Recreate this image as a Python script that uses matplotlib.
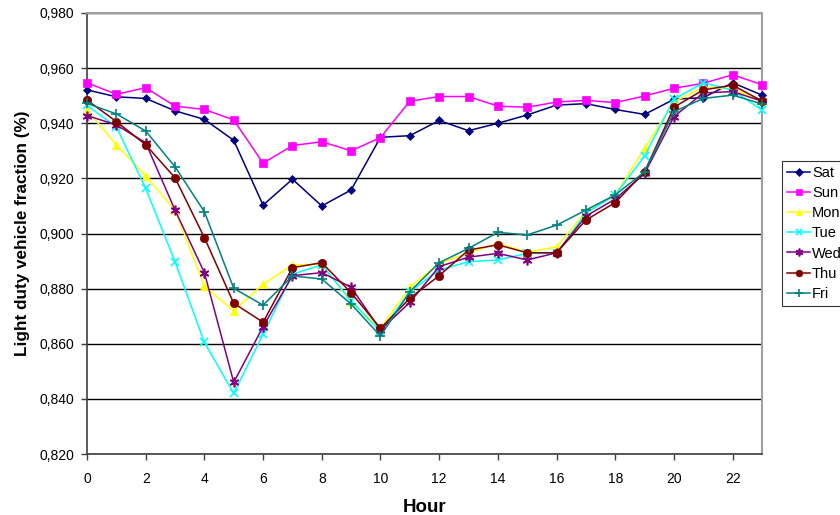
import matplotlib.pyplot as plt
from matplotlib.ticker import FuncFormatter, MultipleLocator

plt.rcParams["font.family"] = ["Liberation Sans", "DejaVu Sans"]

hours = list(range(24))

sat = [0.9521, 0.9496, 0.9490, 0.9445, 0.9414, 0.9338, 0.9103, 0.9197, 0.9100, 0.9158,
       0.9349, 0.9355, 0.9410, 0.9373, 0.9400, 0.9430, 0.9466, 0.9471, 0.9450, 0.9432,
       0.9487, 0.9493, 0.9547, 0.9502]
sun = [0.9547, 0.9505, 0.9529, 0.9462, 0.9450, 0.9412, 0.9255, 0.9319, 0.9333, 0.9300,
       0.9348, 0.9480, 0.9497, 0.9497, 0.9462, 0.9458, 0.9477, 0.9483, 0.9475, 0.9499,
       0.9527, 0.9545, 0.9576, 0.9540]
mon = [0.9448, 0.9322, 0.9209, 0.9085, 0.8809, 0.8719, 0.8816, 0.8886, 0.8888, 0.8752,
       0.8656, 0.8805, 0.8892, 0.8930, 0.8964, 0.8932, 0.8952, 0.9079, 0.9140, 0.9309,
       0.9478, 0.9530, 0.9525, 0.9480]
tue = [0.9465, 0.9387, 0.9164, 0.8898, 0.8605, 0.8420, 0.8634, 0.8853, 0.8886, 0.8756,
       0.8644, 0.8789, 0.8867, 0.8898, 0.8904, 0.8928, 0.8928, 0.9074, 0.9140, 0.9281,
       0.9487, 0.9547, 0.9520, 0.9448]
wed = [0.9428, 0.9394, 0.9329, 0.9085, 0.8858, 0.8460, 0.8662, 0.8847, 0.8858, 0.8805,
       0.8650, 0.8750, 0.8880, 0.8914, 0.8928, 0.8904, 0.8930, 0.9063, 0.9125, 0.9218,
       0.9424, 0.9510, 0.9515, 0.9480]
thu = [0.9484, 0.9406, 0.9322, 0.9202, 0.8985, 0.8747, 0.8678, 0.8876, 0.8894, 0.8785,
       0.8656, 0.8765, 0.8847, 0.8940, 0.8959, 0.8930, 0.8930, 0.9049, 0.9112, 0.9224,
       0.9458, 0.9521, 0.9538, 0.9481]
fri = [0.9472, 0.9434, 0.9372, 0.9242, 0.9079, 0.8801, 0.8740, 0.8846, 0.8835, 0.8744,
       0.8628, 0.8789, 0.8894, 0.8946, 0.9004, 0.8995, 0.9030, 0.9085, 0.9140, 0.9224,
       0.9442, 0.9490, 0.9502, 0.9470]

series = [
    ("Sat", sat, "#000080", "D", 4.5),
    ("Sun", sun, "#FF00FF", "s", 6),
    ("Mon", mon, "#FFFF00", "^", 6),
    ("Tue", tue, "#00FFFF", "x", 6),
    ("Wed", wed, "#800080", (6, 2, 0), 7),
    ("Thu", thu, "#800000", "o", 6),
    ("Fri", fri, "#008080", "+", 7),
]

fig = plt.figure(figsize=(8.4, 5.15), dpi=100)
ax = fig.add_axes([87 / 840, 1 - 454 / 515, 675 / 840, 441 / 515])

for name, vals, color, marker, ms in series:
    thin = marker in ("x", "+") or isinstance(marker, tuple)
    ax.plot(hours, vals, color=color, marker=marker, markersize=ms, linewidth=1.1,
            markeredgewidth=1.2 if thin else 0.5, markeredgecolor=color,
            label=name, clip_on=False, zorder=3)

ax.set_xlim(0, 23)
ax.set_ylim(0.82, 0.98)
ax.xaxis.set_major_locator(MultipleLocator(2))
ax.yaxis.set_major_locator(MultipleLocator(0.02))
ax.yaxis.set_major_formatter(FuncFormatter(lambda v, p: f"{v:.3f}".replace(".", ",")))
ax.grid(axis="y", color="#000000", linewidth=1.0, zorder=1)
ax.set_axisbelow(True)

for side in ("left", "bottom"):
    ax.spines[side].set_color("#404040")
    ax.spines[side].set_linewidth(1.2)
for side in ("top", "right"):
    ax.spines[side].set_color("#a0a0a0")
    ax.spines[side].set_linewidth(1.5)

ax.tick_params(axis="both", direction="out", length=4, width=1, color="#404040",
               labelsize=10)
ax.tick_params(axis="x", pad=9)
ax.tick_params(axis="y", pad=5)

ax.set_xlabel("Hour", fontsize=13.5, fontweight="bold", labelpad=9)
ax.set_ylabel("Light duty vehicle fraction (%)", fontsize=12.3, fontweight="bold", labelpad=7)

# legend runs off the right edge, as in the original
leg = fig.legend(loc="upper left", bbox_to_anchor=(782 / 840, 1 - 161 / 515),
                 borderaxespad=0, frameon=True, fancybox=False, fontsize=10.5,
                 handlelength=1.6, handletextpad=0.1, labelspacing=0.42,
                 borderpad=0.35, markerscale=0.8)
leg.get_frame().set_edgecolor("#000000")
leg.get_frame().set_linewidth(0.8)

plt.savefig("out.png", dpi=100)
plt.close()
